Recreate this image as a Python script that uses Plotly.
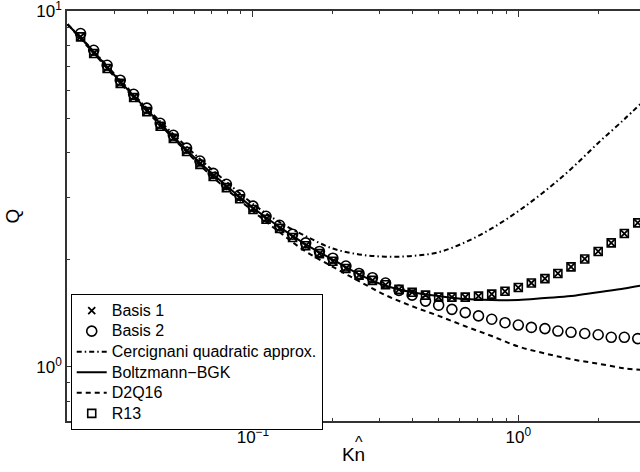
import plotly.graph_objects as go

# Marker series (Kn-hat values and Q)
kn_pts = [0.0224, 0.0251, 0.0282, 0.0316, 0.0355, 0.0398, 0.0447, 0.0501, 0.0562, 0.0631,
          0.0708, 0.0794, 0.0891, 0.1, 0.112, 0.126, 0.141, 0.158, 0.178, 0.2,
          0.224, 0.251, 0.282, 0.316, 0.355, 0.398, 0.447, 0.501, 0.562, 0.631,
          0.708, 0.794, 0.891, 1.0, 1.12, 1.26, 1.41, 1.58, 1.78, 2.0,
          2.24, 2.51, 2.82]
basis1 = [8.48, 7.62, 6.91, 6.28, 5.73, 5.23, 4.75, 4.40, 4.04, 3.72,
          3.44, 3.20, 2.98, 2.78, 2.60, 2.45, 2.32, 2.19, 2.08, 1.98,
          1.89, 1.81, 1.75, 1.70, 1.65, 1.62, 1.59, 1.57, 1.57, 1.57,
          1.58, 1.60, 1.63, 1.67, 1.72, 1.77, 1.83, 1.91, 2.01, 2.11,
          2.23, 2.37, 2.54]
basis2 = [8.66, 7.77, 7.05, 6.40, 5.84, 5.34, 4.84, 4.48, 4.12, 3.79,
          3.50, 3.26, 3.04, 2.83, 2.65, 2.50, 2.36, 2.23, 2.11, 2.02,
          1.92, 1.83, 1.78, 1.72, 1.64, 1.59, 1.53, 1.49, 1.45, 1.42,
          1.39, 1.36, 1.33, 1.31, 1.29, 1.28, 1.26, 1.25, 1.24, 1.23,
          1.21, 1.21, 1.20]
r13 = [8.47, 7.61, 6.90, 6.27, 5.72, 5.22, 4.75, 4.39, 4.03, 3.71,
       3.43, 3.19, 2.97, 2.77, 2.60, 2.45, 2.31, 2.19, 2.08, 1.98,
       1.89, 1.81, 1.75, 1.70, 1.65, 1.62, 1.59, 1.57, 1.57, 1.57,
       1.58, 1.60, 1.63, 1.67, 1.72, 1.77, 1.83, 1.91, 2.01, 2.11,
       2.23, 2.37, 2.54]

# Curve series
kn_line = [0.02, 0.0251, 0.0316, 0.0398, 0.0501, 0.0631, 0.0794, 0.1, 0.126, 0.158,
           0.2, 0.251, 0.316, 0.398, 0.501, 0.631, 0.794, 1.0, 1.26, 1.58,
           2.0, 2.51, 2.88]
cercignani = [9.19, 7.72, 6.40, 5.34, 4.51, 3.84, 3.31, 2.87, 2.55, 2.33,
              2.15, 2.07, 2.04, 2.05, 2.10, 2.24, 2.45, 2.74, 3.12, 3.60,
              4.26, 4.97, 5.48]
bgk = [9.19, 7.69, 6.34, 5.29, 4.44, 3.75, 3.23, 2.80, 2.47, 2.21,
       2.00, 1.82, 1.69, 1.62, 1.58, 1.55, 1.54, 1.54, 1.56, 1.58,
       1.62, 1.66, 1.69]
d2q16 = [9.19, 7.62, 6.28, 5.23, 4.39, 3.69, 3.16, 2.74, 2.39, 2.11,
         1.91, 1.74, 1.59, 1.48, 1.39, 1.30, 1.22, 1.14, 1.09, 1.05,
         1.02, 0.99, 0.98]

x_tickvals = [0.1, 1]
x_ticktext = ["10<sup>\u22121</sup>", "10<sup>0</sup>"]
y_tickvals = [1, 10]
y_ticktext = ["10<sup>0</sup>", "10<sup>1</sup>"]
x_minor = [0.03, 0.04, 0.05, 0.06, 0.07, 0.08, 0.09, 0.2, 0.3, 0.4, 0.5, 0.6, 0.7, 0.8, 0.9, 2]
y_minor = [0.7, 0.8, 0.9, 2, 3, 4, 5, 6, 7, 8, 9]

FONT = "Liberation Sans, Arial, Helvetica, sans-serif"


def lg(name):
    return '<span style="font-size:16px">' + name + '</span>'


fig = go.Figure()

fig.add_trace(go.Scatter(x=kn_line, y=cercignani, mode="lines", name=lg("Cercignani quadratic approx."),
                         line=dict(color="black", width=2, dash="5px,3px,1.5px,3px", shape="spline"),
                         legendrank=3))
fig.add_trace(go.Scatter(x=kn_line, y=bgk, mode="lines", name=lg("Boltzmann\u2212BGK"),
                         line=dict(color="black", width=2, shape="spline"), legendrank=4))
fig.add_trace(go.Scatter(x=kn_line, y=d2q16, mode="lines", name=lg("D2Q16"),
                         line=dict(color="black", width=2, dash="5px,4px", shape="spline"),
                         legendrank=5))
fig.add_trace(go.Scatter(x=kn_pts, y=r13, mode="markers", name=lg("R13"),
                         marker=dict(symbol="square-open", size=8, color="black",
                                     line=dict(width=1.6, color="black")), legendrank=6))
fig.add_trace(go.Scatter(x=kn_pts, y=basis2, mode="markers", name=lg("Basis 2"),
                         marker=dict(symbol="circle-open", size=10, color="black",
                                     line=dict(width=1.6, color="black")), legendrank=2))
fig.add_trace(go.Scatter(x=kn_pts, y=basis1, mode="markers", name=lg("Basis 1"),
                         marker=dict(symbol="x-thin-open", size=7, color="black",
                                     line=dict(width=1.8, color="black")), legendrank=1))

fig.update_layout(
    width=640, height=472,
    margin=dict(l=67, r=0, t=11, b=51, autoexpand=False),
    paper_bgcolor="white", plot_bgcolor="white",
    font=dict(family=FONT, size=17, color="black"),
    showlegend=True,
    legend=dict(x=0.0065, y=0.309, xanchor="left", yanchor="top",
                bgcolor="white", bordercolor="black", borderwidth=1,
                font=dict(size=13.5), tracegroupgap=0, itemwidth=30),
    xaxis=dict(type="log", range=[-1.701, 0.4587], automargin=False,
               tickvals=x_tickvals, ticktext=x_ticktext, ticklabeloverflow="allow",
               ticks="inside", ticklen=6, tickwidth=1, tickcolor="#333",
               minor=dict(tickvals=x_minor, ticks="inside", ticklen=3, tickcolor="#333"),
               showline=True, linecolor="#333", linewidth=1.5, mirror="ticks",
               showgrid=False, zeroline=False,
               title=dict(text="Kn", standoff=2, font=dict(size=19))),
    yaxis=dict(type="log", range=[-0.1527, 1.0008], automargin=False,
               tickvals=y_tickvals, ticktext=y_ticktext, ticklabeloverflow="allow",
               ticks="inside", ticklen=6, tickwidth=1, tickcolor="#333",
               minor=dict(tickvals=y_minor, ticks="inside", ticklen=3, tickcolor="#333"),
               showline=True, linecolor="#333", linewidth=1.5,
               showgrid=False, zeroline=False,
               title=dict(text="Q", standoff=12, font=dict(size=19))),
    annotations=[dict(text="^", xref="paper", yref="paper", x=0.509, y=-0.052,
                      xanchor="center", yanchor="middle", showarrow=False,
                      font=dict(size=16, family=FONT))],
)

fig.write_html("out.html", config={"displayModeBar": False},
               post_script="document.body.style.margin='0px';document.body.style.overflow='hidden';")
